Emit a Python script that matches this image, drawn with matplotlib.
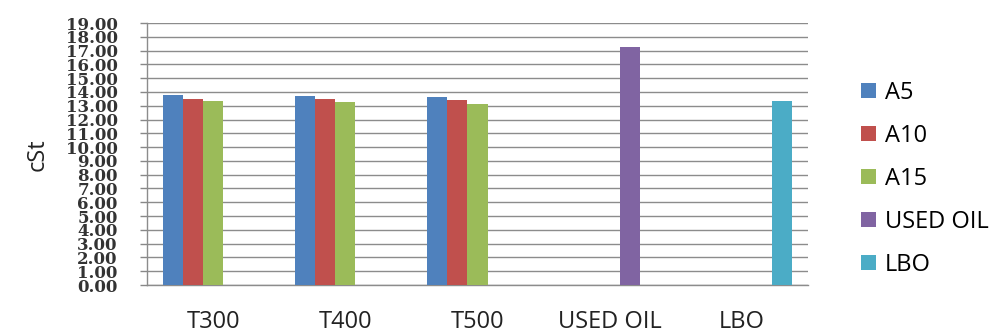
import numpy as np
import matplotlib
matplotlib.use("Agg")
import matplotlib.pyplot as plt

categories = ["T300", "T400", "T500", "USED OIL", "LBO"]
series_names = ["A5", "A10", "A15", "USED OIL", "LBO"]
nan = np.nan
a5 = [13.78, 13.68, 13.60, nan, nan]
a10 = [13.50, 13.46, 13.39, nan, nan]
a15 = [13.37, 13.27, 13.10, nan, nan]
used_oil = [nan, nan, nan, 17.26, nan]
lbo = [nan, nan, nan, nan, 13.37]
series_values = [a5, a10, a15, used_oil, lbo]
colors = ["#4F81BD", "#C0504D", "#9BBB59", "#8064A2", "#4BACC6"]
y_ticks = np.arange(0, 20, 1)

fig = plt.figure(figsize=(10.02, 3.34), dpi=100)
ax = fig.add_axes([147 / 1002, 1 - 285 / 334, 661 / 1002, 262 / 334])

x = np.arange(len(categories))
width = 0.152
offsets = (np.arange(len(series_names)) - 2) * width
for vals, name, col, off in zip(series_values, series_names, colors, offsets):
    ax.bar(x + off, vals, width=width, color=col, label=name, zorder=3)

ax.set_xlim(-0.5, len(categories) - 0.5)
ax.set_ylim(0, 19)
ax.set_yticks(y_ticks)
ax.set_yticklabels([f"{v:.2f}" for v in y_ticks], family="DejaVu Serif",
                   fontweight="bold", fontsize=12, color="#333333")
ax.set_xticks(x)
ax.set_xticklabels(categories, family="Open Sans", fontsize=17, color="#222222")
ax.tick_params(axis="x", length=0, pad=18)
ax.tick_params(axis="y", length=5, width=1, color="#888888", pad=16)
ax.grid(axis="y", color="#8c8c8c", linewidth=1, zorder=0)
for s in ["top", "right"]:
    ax.spines[s].set_visible(False)
for s in ["left", "bottom"]:
    ax.spines[s].set_color("#8c8c8c")
    ax.spines[s].set_linewidth(1)

ax.set_ylabel("cSt", family="Open Sans", fontsize=17, color="#222222")
ax.yaxis.set_label_coords(-0.148, 0.496)

fig.legend(loc="center left", bbox_to_anchor=(852 / 1002, 1 - 179 / 334),
           frameon=False, prop={"family": "Open Sans", "size": 17},
           handlelength=0.6, handleheight=0.6, handletextpad=0.4,
           labelspacing=0.8, borderaxespad=0)

fig.savefig("out.png", dpi=100)
